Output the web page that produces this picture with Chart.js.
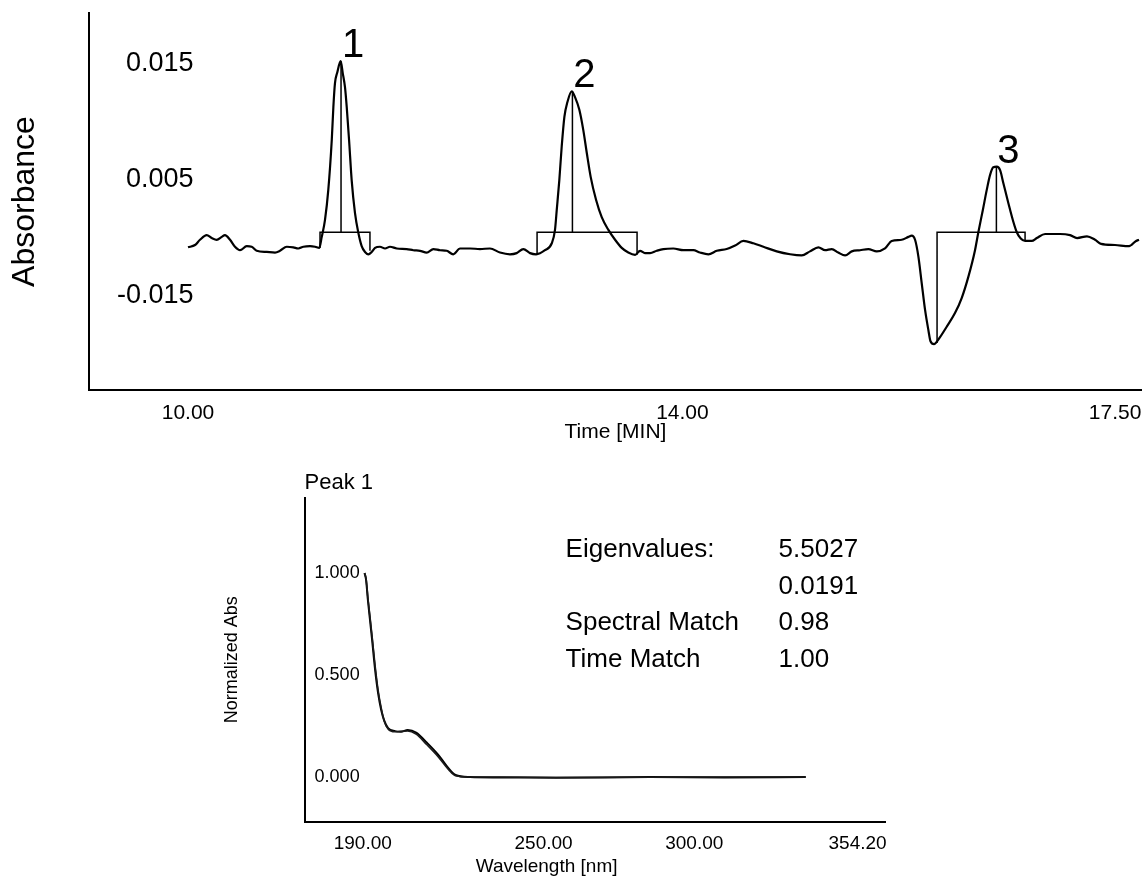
<!DOCTYPE html>
<html>
<head>
<meta charset="utf-8">
<title>Chromatogram and peak 1 spectrum</title>
<script src="https://cdn.jsdelivr.net/npm/chart.js@4.4.0/dist/chart.umd.min.js"></script>
<style>
  html, body { margin: 0; padding: 0; background: #fff; overflow: hidden; }
  #wrap { position: relative; width: 1142px; height: 878px; }
  canvas { position: absolute; left: 0; }
  #chromCanvas { top: 0; }
  #specCanvas { top: 455px; }
</style>
</head>
<body>
<div id="wrap">
  <canvas id="chromCanvas" width="1142" height="455"></canvas>
  <canvas id="specCanvas" width="1142" height="423"></canvas>
</div>
<script>
// chromatogram trace: retention time (min) and absorbance (AU)
const timeMin = [
  10.000, 10.057, 10.097, 10.151, 10.192, 10.232, 10.273, 10.299, 10.340, 10.380,
  10.421, 10.475, 10.515, 10.556, 10.637, 10.704, 10.744, 10.799, 10.852, 10.892,
  10.933, 10.987, 11.028, 11.062,
  11.082, 11.108, 11.135, 11.163, 11.176, 11.189, 11.208, 11.235, 11.252, 11.270,
  11.284, 11.303, 11.324, 11.351, 11.378, 11.405, 11.432, 11.459, 11.486, 11.513,
  11.553, 11.594, 11.634, 11.689, 11.769, 11.823, 11.877, 11.931, 11.985, 12.039,
  12.093, 12.146, 12.201, 12.282, 12.362, 12.443, 12.524, 12.605, 12.659, 12.713,
  12.767, 12.816,
  12.888, 12.943, 12.969, 12.983, 13.004, 13.023, 13.045, 13.069, 13.104, 13.131,
  13.166, 13.198, 13.226, 13.258, 13.301, 13.347, 13.401, 13.455, 13.509, 13.562,
  13.617,
  13.657, 13.697, 13.738, 13.792, 13.846, 13.926, 14.007, 14.088, 14.142, 14.210,
  14.278, 14.358, 14.426, 14.493, 14.574, 14.655, 14.763, 14.871, 14.965, 15.032,
  15.100, 15.154, 15.208, 15.261, 15.316, 15.370, 15.437, 15.504, 15.572, 15.639,
  15.693, 15.774, 15.828, 15.855, 15.882,
  15.909, 15.936, 15.963, 15.990, 16.007, 16.036, 16.057, 16.084, 16.138, 16.206,
  16.260, 16.313, 16.367, 16.394, 16.430, 16.462, 16.489, 16.515, 16.543, 16.570,
  16.596, 16.637, 16.677, 16.705, 16.737, 16.772,
  16.826, 16.867, 16.934, 17.055, 17.136, 17.193, 17.273, 17.338, 17.387, 17.500,
  17.613, 17.670, 17.694
];
const absorbance = [
  -0.0066, -0.0062, -0.0053, -0.0045, -0.0050, -0.0053, -0.0048, -0.0045, -0.0053, -0.0065,
  -0.0071, -0.0064, -0.0065, -0.0072, -0.0074, -0.0075, -0.0072, -0.0065, -0.0066, -0.0068,
  -0.0065, -0.0064, -0.0065, -0.0067,
  -0.0048, -0.0019, 0.0033, 0.0119, 0.0176, 0.0217, 0.0236, 0.0255, 0.0234, 0.0210,
  0.0176, 0.0119, 0.0050, -0.0007, -0.0041, -0.0064, -0.0074, -0.0078, -0.0074, -0.0067,
  -0.0065, -0.0068, -0.0065, -0.0068, -0.0069, -0.0071, -0.0072, -0.0075, -0.0069, -0.0071,
  -0.0072, -0.0078, -0.0068, -0.0068, -0.0069, -0.0068, -0.0075, -0.0078, -0.0076, -0.0069,
  -0.0076, -0.0078,
  -0.0071, -0.0059, -0.0036, -0.0002, 0.0050, 0.0107, 0.0159, 0.0184, 0.0203, 0.0193,
  0.0171, 0.0136, 0.0097, 0.0055, 0.0016, -0.0014, -0.0036, -0.0053, -0.0067, -0.0075,
  -0.0079,
  -0.0072, -0.0076, -0.0076, -0.0072, -0.0069, -0.0068, -0.0071, -0.0071, -0.0075, -0.0078,
  -0.0072, -0.0069, -0.0063, -0.0055, -0.0059, -0.0065, -0.0073, -0.0078, -0.0080, -0.0073,
  -0.0066, -0.0071, -0.0069, -0.0075, -0.0080, -0.0073, -0.0071, -0.0069, -0.0073, -0.0068,
  -0.0055, -0.0053, -0.0048, -0.0046, -0.0053,
  -0.0082, -0.0128, -0.0174, -0.0209, -0.0228, -0.0233, -0.0229, -0.0221, -0.0203, -0.0179,
  -0.0153, -0.0117, -0.0071, -0.0040, -0.0002, 0.0033, 0.0059, 0.0072, 0.0073, 0.0067,
  0.0045, 0.0010, -0.0022, -0.0040, -0.0051, -0.0055,
  -0.0055, -0.0050, -0.0043, -0.0043, -0.0045, -0.0050, -0.0047, -0.0053, -0.0060, -0.0062,
  -0.0064, -0.0055, -0.0053
];

// integrated peaks
const peakNames = ['1', '2', '3'];
const peakApex = [11.238, 13.110, 16.540];
const peakHeight = [0.0255, 0.0203, 0.0073];
const peakStart = [11.068, 12.824, 16.060];
const peakEnd = [11.472, 13.633, 16.772];
const startLevel = [-0.0067, -0.0078, -0.0231];
const endLevel = [-0.0072, -0.0079, -0.0055];
const boxTop = -0.0040;

// chromatogram axis ticks
const timeTicks = [10, 14, 17.5];
const absTickValues = [-0.015, 0.005, 0.025];
const absTickLabels = ['-0.015', '0.005', '0.015'];

// normalized UV spectra of peak 1
const wavelengthNm = [190.6, 191.1, 191.7, 192.4, 193.1, 194.1, 195.1, 196.1, 197.1, 198.4,
  200.7, 202.7, 204.9, 207.7, 211.3, 215.0, 218.5, 220.8, 225.6, 235.5, 254.1, 285.3, 310.0, 337.0];
const apexSpectrum = [1.000, 0.966, 0.868, 0.770, 0.672, 0.525, 0.410, 0.330, 0.278, 0.240,
  0.225, 0.222, 0.230, 0.218, 0.168, 0.110, 0.042, 0.010, 0.000, -0.002, -0.004, 0.000, -0.002, 0.000];
const slopeSpectrum = [1.000, 0.972, 0.880, 0.785, 0.690, 0.545, 0.425, 0.340, 0.275, 0.236,
  0.222, 0.224, 0.226, 0.210, 0.158, 0.100, 0.036, 0.006, 0.000, 0.000, -0.002, -0.001, 0.000, 0.000];
const wlTicks = [190, 250, 300, 354.2];
const normTicks = [0, 0.5, 1];

// peak purity results
const infoLabels = ['Eigenvalues:', '', 'Spectral Match', 'Time Match'];
const infoValues = ['5.5027', '0.0191', '0.98', '1.00'];

const FONT = '"Liberation Sans", Arial, Helvetica, sans-serif';
Chart.defaults.font.family = FONT;
Chart.defaults.color = '#000';

const zip = (xs, ys) => xs.slice(0, Math.min(xs.length, ys.length)).map((x, i) => ({ x, y: ys[i] }));

const tracePoints = zip(timeMin, absorbance);

// baseline boxes and apex markers, segments separated by gaps
const markPoints = [];
peakApex.forEach((t, i) => {
  markPoints.push(
    { x: peakStart[i], y: startLevel[i] },
    { x: peakStart[i], y: boxTop },
    { x: t, y: boxTop },
    { x: t, y: peakHeight[i] },
    { x: t, y: boxTop },
    { x: peakEnd[i], y: boxTop },
    { x: peakEnd[i], y: endLevel[i] },
    { x: peakEnd[i], y: null }
  );
});

const noGrid = { display: false, drawTicks: false };
const axisLine = { display: true, color: '#000', width: 2 };

const peakNumbers = {
  id: 'peakNumbers',
  afterDatasetsDraw(chart) {
    const { ctx, scales: { x, y } } = chart;
    ctx.save();
    ctx.font = '40px ' + FONT;
    ctx.fillStyle = '#000';
    ctx.textAlign = 'center';
    ctx.textBaseline = 'alphabetic';
    peakNames.forEach((name, i) => {
      ctx.fillText(name, x.getPixelForValue(peakApex[i]) + 12, y.getPixelForValue(peakHeight[i]) - 4);
    });
    ctx.restore();
  }
};

new Chart(document.getElementById('chromCanvas'), {
  type: 'line',
  data: {
    datasets: [
      { data: tracePoints, borderColor: '#000', borderWidth: 2.2, pointRadius: 0,
        cubicInterpolationMode: 'monotone', borderJoinStyle: 'round' },
      { data: markPoints, borderColor: '#000', borderWidth: 1.5, pointRadius: 0, tension: 0, spanGaps: false }
    ]
  },
  options: {
    responsive: false,
    animation: false,
    events: [],
    layout: { padding: { left: 0, right: 0, top: 13, bottom: 10 } },
    plugins: { legend: { display: false }, tooltip: { enabled: false } },
    scales: {
      x: {
        type: 'linear', min: 9.199, max: 17.718,
        grid: noGrid, border: axisLine,
        afterBuildTicks: s => { s.ticks = timeTicks.map(v => ({ value: v })); },
        ticks: { font: { size: 21 }, padding: 11, maxRotation: 0, autoSkip: false, callback: v => v.toFixed(2) },
        title: { display: true, text: 'Time [MIN]', font: { size: 21 }, padding: { top: 0, bottom: 0 } },
        afterFit: s => { s.height = 55; s.paddingLeft = 0; s.paddingRight = 0; }
      },
      y: {
        type: 'linear', min: -0.0312, max: 0.0338,
        grid: noGrid, border: axisLine,
        afterBuildTicks: s => { s.ticks = absTickValues.map(v => ({ value: v })); },
        ticks: { mirror: true, crossAlign: 'far', padding: 28, font: { size: 27 },
          callback: (v, i) => absTickLabels[i] },
        title: { display: true, text: 'Absorbance', font: { size: 32 }, padding: { top: 6, bottom: 0 } },
        afterFit: s => { s.width = 89; s.paddingTop = 0; s.paddingBottom = 0; }
      }
    }
  },
  plugins: [peakNumbers]
});

// x-axis caption centred under the 250 nm tick
const axisCaption = {
  id: 'axisCaption',
  afterDraw(chart) {
    const { ctx, scales: { x } } = chart;
    ctx.save();
    ctx.font = '19px ' + FONT;
    ctx.fillStyle = '#000';
    ctx.textAlign = 'center';
    ctx.textBaseline = 'middle';
    ctx.fillText('Wavelength [nm]', x.getPixelForValue(251), x.bottom - 5);
    ctx.restore();
  }
};

const purityInfo = {
  id: 'purityInfo',
  afterDraw(chart) {
    const { ctx, chartArea } = chart;
    ctx.save();
    ctx.font = '26px ' + FONT;
    ctx.fillStyle = '#000';
    ctx.textAlign = 'left';
    ctx.textBaseline = 'middle';
    infoLabels.forEach((label, i) => {
      const y = chartArea.top + 52 + i * 36.5;
      if (label) ctx.fillText(label, chartArea.left + 261, y);
      ctx.fillText(infoValues[i], chartArea.left + 474, y);
    });
    ctx.restore();
  }
};

new Chart(document.getElementById('specCanvas'), {
  type: 'line',
  data: {
    datasets: [
      { data: zip(wavelengthNm, slopeSpectrum), borderColor: '#1a1a1a', borderWidth: 1.6, pointRadius: 0,
        cubicInterpolationMode: 'monotone' },
      { data: zip(wavelengthNm, apexSpectrum), borderColor: '#000', borderWidth: 2, pointRadius: 0,
        cubicInterpolationMode: 'monotone' }
    ]
  },
  options: {
    responsive: false,
    animation: false,
    events: [],
    layout: { padding: { left: 214.6, right: 257, top: 14.6, bottom: 6.3 } },
    plugins: {
      legend: { display: false },
      tooltip: { enabled: false },
      title: { display: true, text: 'Peak 1', align: 'start', fullSize: false,
        font: { size: 22, weight: 'normal' }, padding: { top: 0, bottom: 2 } }
    },
    scales: {
      x: {
        type: 'linear', min: 170.7, max: 363.3,
        grid: noGrid, border: axisLine,
        afterBuildTicks: s => { s.ticks = wlTicks.map(v => ({ value: v })); },
        ticks: { font: { size: 19 }, padding: 11, maxRotation: 0, autoSkip: false, callback: v => v.toFixed(2) },
        afterFit: s => { s.height = 50; s.paddingLeft = 0; s.paddingRight = 0; }
      },
      y: {
        type: 'linear', min: -0.219, max: 1.368,
        grid: noGrid, border: axisLine,
        afterBuildTicks: s => { s.ticks = normTicks.map(v => ({ value: v })); },
        ticks: { mirror: true, padding: 10, font: { size: 18 }, callback: v => v.toFixed(3) },
        title: { display: true, text: 'Normalized Abs', font: { size: 18 }, padding: { top: 6.6, bottom: 0 } },
        afterFit: s => { s.width = 90; s.paddingTop = 0; s.paddingBottom = 0; }
      }
    }
  },
  plugins: [axisCaption, purityInfo]
});
</script>
</body>
</html>
